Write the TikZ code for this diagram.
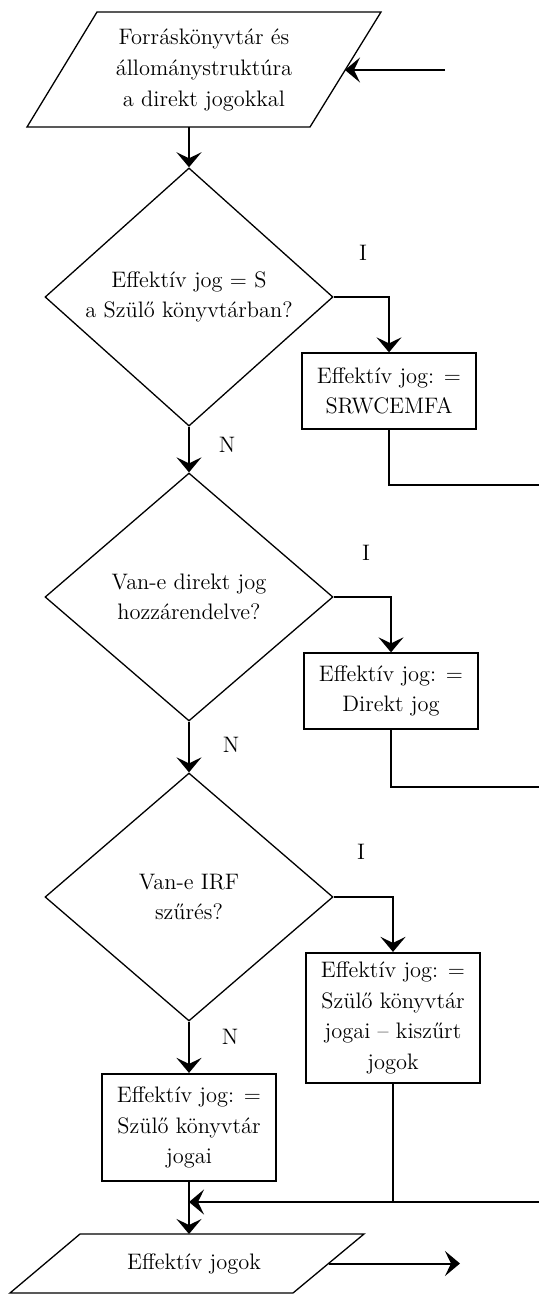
\documentclass[tikz,border=0pt]{standalone}
\usepackage{fontspec}
\usetikzlibrary{shapes.geometric,arrows.meta}

\begin{document}
\begin{tikzpicture}[x=0.5pt,y=-0.5pt]

    % Define some common styles
    \tikzset{
        every node/.style={font=\fontsize{11.2}{15.3}\selectfont},
        shape line/.style={line width=0.65pt},
        decision/.style={diamond, draw, shape line, minimum width=144pt, minimum height=124pt, inner sep=0pt, align=center},
        process/.style={rectangle, draw, shape line, minimum width=87pt, inner sep=2pt, align=center},
        heavy/.style={line width=1.1pt},
        iotext/.style={inner sep=0pt, align=center},
        arr/.style={line width=1pt, -{Stealth[length=7.5pt,width=12.5pt,inset=3pt]}},
        ret/.style={line width=0.65pt},
        answer/.style={inner sep=0pt}
    }

    % Fix the page size
    \useasboundingbox (0,0) rectangle (539,1295);

    % Input data
    \node[iotext] (src) at (204,70) {Forráskönyvtár és\\állománystruktúra\\a direkt jogokkal};
    \draw[shape line] (src.center) ++(-107,-58) -- ++(284,0) -- ++(-71,115) -- ++(-283,0) -- cycle;
    \coordinate (srcin) at (345,70);
    \coordinate (srcout) at (189,127);

    % Output data
    \node[iotext] (dst) at (194,1263.5) {Effektív jogok};
    \draw[shape line] (dst.center) ++(-114,-29.5) -- ++(284,0) -- ++(-71,59) -- ++(-283,0) -- cycle;
    \coordinate (dstin) at (189,1234);
    \coordinate (dstout) at (328.5,1263.5);

    % Decisions
    \node[decision] (d1) at (189,297) {Effektív jog = S\\a Szülő könyvtárban?};
    \node[decision] (d2) at (189,597) {Van-e direkt jog\\hozzárendelve?};
    \node[decision] (d3) at (189,897) {Van-e IRF\\szűrés?};

    % Assignments
    \node[process, minimum height=38pt] (b1) at (389,391) {Effektív jog: =\\SRWCEMFA};
    \node[process, minimum height=38pt] (b2) at (391,691) {Effektív jog: =\\Direkt jog};
    \node[process, heavy, minimum height=65pt] (b3) at (393,1018) {Effektív jog: =\\Szülő könyvtár\\jogai -- kiszűrt\\jogok};
    \node[process, heavy, minimum height=53.5pt] (b4) at (189,1127.5) {Effektív jog: =\\Szülő könyvtár\\jogai};

    % Answer labels
    \node[answer] (i1) at (363,253) {I};
    \node[answer] (i2) at (366,553) {I};
    \node[answer] (i3) at (361,852) {I};
    \node[answer] (n1) at (227,445) {N};
    \node[answer] (n2) at (231,745) {N};
    \node[answer] (n3) at (230,1037) {N};

    % Free ends at the page border
    \coordinate (in) at (445,70);
    \coordinate (out) at (460,1263.5);
    \coordinate (r1) at (539,485);
    \coordinate (r2) at (539,787);
    \coordinate (fb) at (539,1202);

    % Main flow
    \draw[arr] (in) -- (srcin);
    \draw[arr] (srcout) -- (d1.north);
    \draw[arr] (d1.south) -- (d2.north);
    \draw[arr] (d2.south) -- (d3.north);
    \draw[arr] (d3.south) -- (b4.north);
    \draw[arr] (b4.south) -- (dstin);
    \draw[arr] (dstout) -- (out);

    % Yes branches
    \draw[arr] (d1.east) -| (b1.north);
    \draw[arr] (d2.east) -| (b2.north);
    \draw[arr] (d3.east) -| (b3.north);

    % Back lines
    \draw[ret] (b1.south) |- (r1);
    \draw[ret] (b2.south) |- (r2);
    \draw[ret] (b3.south) -- (b3.south |- fb);
    \draw[arr] (fb) -- (fb -| b4.south);

\end{tikzpicture}
\end{document}
